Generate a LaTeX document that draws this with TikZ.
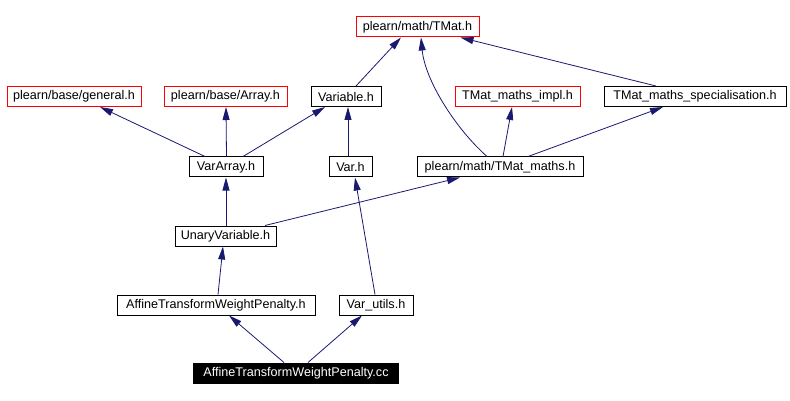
\documentclass[tikz,border=0pt]{standalone}
\usepackage{fontspec}
\setmainfont{Liberation Sans}
\usetikzlibrary{arrows.meta}
\definecolor{edgeblue}{HTML}{191970}
\tikzset{
  filebox/.style={draw=black, line width=1pt, rectangle, inner sep=0pt, minimum height=20pt, font=\fontsize{12.6}{14}\selectfont, fill=white},
  redbox/.style={filebox, draw=red},
  mainbox/.style={filebox, fill=black, draw=black, text=white},
  dep/.style={draw=edgeblue, line width=0.8pt, -{Triangle[length=13pt,width=7pt]}}
}
\begin{document}
\begin{tikzpicture}[x=1pt,y=-1pt]
\useasboundingbox (0,0) rectangle (790,401);
\node[redbox, minimum width=123pt] (tmat) at (417.5,27) {plearn/math/TMat.h};
\node[redbox, minimum width=134pt] (general) at (74,96.5) {plearn/base/general.h};
\node[redbox, minimum width=123pt] (array) at (225.5,96.5) {plearn/base/Array.h};
\node[filebox, minimum width=70pt] (variable) at (346,96.5) {Variable.h};
\node[redbox, minimum width=125pt] (impl) at (517.5,96.5) {TMat\_maths\_impl.h};
\node[filebox, minimum width=182pt] (spec) at (695,96.5) {TMat\_maths\_specialisation.h};
\node[filebox, minimum width=74pt] (vararray) at (226,167) {VarArray.h};
\node[filebox, minimum width=43pt] (var) at (350.5,167) {Var.h};
\node[filebox, minimum width=166pt] (tmaths) at (500,167) {plearn/math/TMat\_maths.h};
\node[filebox, minimum width=101pt] (unary) at (225.5,236) {UnaryVariable.h};
\node[filebox, minimum width=198pt] (affh) at (216,305) {AffineTransformWeightPenalty.h};
\node[filebox, minimum width=74pt] (varutils) at (376,305) {Var\_utils.h};
\node[mainbox, minimum width=205pt] (cc) at (296,373) {AffineTransformWeightPenalty.cc};

\draw[dep] ([xshift=-21pt]vararray.north) -- ([xshift=26pt]general.south);
\draw[dep] ([xshift=0.5pt]vararray.north) -- ([xshift=0.5pt]array.south);
\draw[dep] ([xshift=17pt]vararray.north) -- ([xshift=-21pt]variable.south);
\draw[dep] ([xshift=10pt]variable.north) -- ([xshift=-16.5pt]tmat.south);
\draw[dep] ([xshift=-2.5pt]var.north) -- ([xshift=2pt]variable.south);
\draw[dep] ([xshift=-13pt]tmaths.north) .. controls (455,128) and (425,80) .. ([xshift=3.5pt]tmat.south);
\draw[dep] ([xshift=3pt]tmaths.north) -- ([xshift=-5.5pt]impl.south);
\draw[dep] ([xshift=28pt]tmaths.north) -- ([xshift=-32pt]spec.south);
\draw[dep] ([xshift=-39pt]spec.north) -- ([xshift=43pt]tmat.south);
\draw[dep] ([xshift=39.5pt]unary.north) -- ([xshift=-40pt]tmaths.south);
\draw[dep] ([xshift=0.5pt]unary.north) -- (vararray.south);
\draw[dep] ([xshift=2pt]affh.north) -- ([xshift=-2.5pt]unary.south);
\draw[dep] ([xshift=-1pt]varutils.north) -- ([xshift=4.5pt]var.south);
\draw[dep] ([xshift=-12pt]cc.north) -- ([xshift=13pt]affh.south);
\draw[dep] ([xshift=12pt]cc.north) -- ([xshift=-14pt]varutils.south);
\end{tikzpicture}
\end{document}
